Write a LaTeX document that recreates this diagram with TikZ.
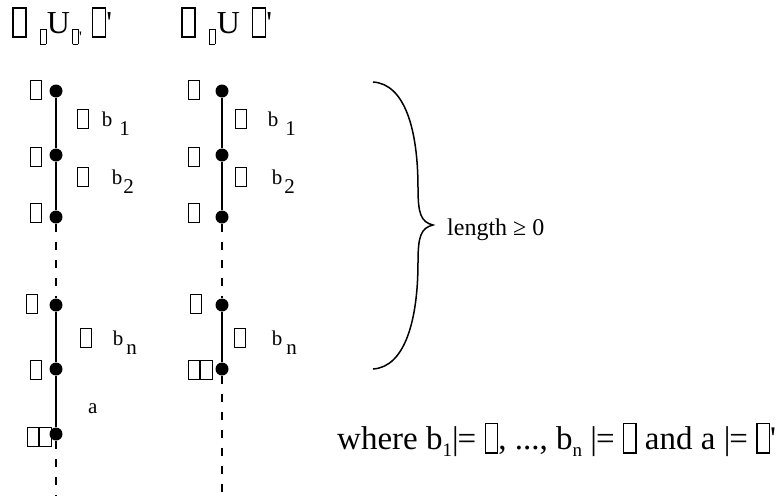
\documentclass[tikz,border=0pt]{standalone}
\usepackage{fontspec}
\setmainfont{Liberation Serif}[Ligatures=TeXOff]
% empty glyph frame: width (optional), height .8em, depth .15em
\newcommand\nog[1][.45em]{\lower.15em\hbox{\vrule width .045em\vbox to .95em{\hrule height .045em width \dimexpr#1-.09em\relax\vfil\hrule height .045em}\vrule width .045em}}
\newcommand\smallsz{\fontsize{16}{16}\selectfont}
\newcommand\lowbox[1]{{\smallsz\raisebox{-9pt}{\nog#1}}}
% edge label: frame, gap, b, gap, lowered index
\newcommand\elab[3]{\nog[.55em]\hspace{#1}b\hspace{#2}\raisebox{-9pt}{#3}}
\begin{document}
\begin{tikzpicture}[x=1pt,y=-1pt,
  dot/.style={circle,fill=black,inner sep=0pt,minimum width=12.5pt,minimum height=13pt},
  chain/.style={line width=1.6pt},
  gapline/.style={line width=1.2pt,dash pattern=on 8pt off 10pt},
  lbl/.style={inner sep=0pt,font=\fontsize{21}{21}\selectfont},
  ttl/.style={inner sep=0pt,font=\fontsize{32}{32}\selectfont,anchor=base west},
  txt/.style={inner sep=0pt,anchor=base west},
  brace/.style={line width=1.5pt}
]
\useasboundingbox (0,0) rectangle (776,496);

% headings
\node[ttl] (h1) at (12,33) {\nog\hspace{13pt}\lowbox{}U\hspace{2pt}\lowbox{'}\hspace{10pt}\nog'};
\node[ttl] (h2) at (181,33) {\nog\hspace{13pt}\lowbox{}\hspace{1pt}U\hspace{12pt}\nog'};

% left chain
\node[dot] (l1) at (56,91) {};
\node[dot] (l2) at (56,155) {};
\node[dot] (l3) at (56,217) {};
\node[dot] (l4) at (56,305) {};
\node[dot] (l5) at (56,369) {};
\node[dot] (l6) at (56,434) {};
\coordinate (lend) at (56,496);
\draw[chain] (l1) -- (l2) -- (l3);
\draw[gapline] (l3) -- (l4);
\draw[chain] (l4) -- (l5) -- (l6);
\draw[gapline] (l6) -- (lend);

% right chain
\node[dot] (r1) at (222,91) {};
\node[dot] (r2) at (222,155) {};
\node[dot] (r3) at (222,217) {};
\node[dot] (r4) at (222,305) {};
\node[dot] (r5) at (222,369) {};
\coordinate (rend) at (222,496);
\draw[chain] (r1) -- (r2) -- (r3);
\draw[gapline] (r3) -- (r4);
\draw[chain] (r4) -- (r5);
\draw[gapline] (r5) -- (rend);

% state labels
\node[lbl,anchor=east] (sl1) at (42,90) {\nog[.55em]};
\node[lbl,anchor=east] (sl2) at (42,157) {\nog[.55em]};
\node[lbl,anchor=east] (sl3) at (42,213) {\nog[.55em]};
\node[lbl,anchor=east] (sl4) at (38,304) {\nog[.55em]};
\node[lbl,anchor=east] (sl5) at (42,370) {\nog[.55em]};
\node[lbl,anchor=east] (sl6) at (52,437) {\nog[.6em]\nog[.6em]};
\node[lbl,anchor=east] (sr1) at (200,90) {\nog[.55em]};
\node[lbl,anchor=east] (sr2) at (200,157) {\nog[.55em]};
\node[lbl,anchor=east] (sr3) at (200,213) {\nog[.55em]};
\node[lbl,anchor=east] (sr4) at (202,304) {\nog[.55em]};
\node[lbl,anchor=east] (sr5) at (213,370) {\nog[.6em]\nog[.6em]};

% step labels
\node[lbl,anchor=base west] (el1) at (77,126) {\elab{13pt}{7pt}{1}};
\node[lbl,anchor=base west] (el2) at (77,184) {\elab{23pt}{1pt}{2}};
\node[lbl,anchor=base west] (eln) at (80,345) {\elab{21pt}{3pt}{n}};
\node[lbl,anchor=base west] (ela) at (88,413) {a};
\node[lbl,anchor=base west] (er1) at (235,126) {\elab{21pt}{7pt}{1}};
\node[lbl,anchor=base west] (er2) at (235,184) {\elab{25pt}{2pt}{2}};
\node[lbl,anchor=base west] (ern) at (234,345) {\elab{26pt}{4pt}{n}};

% brace over the repeated part
\draw[brace] (373,82) .. controls (405,84) and (418,130) .. (418,188)
  .. controls (418,214) and (421,222) .. (433,225)
  .. controls (421,228) and (418,236) .. (418,262)
  .. controls (418,320) and (405,367) .. (373,369);
\node[txt,font=\fontsize{24}{24}\selectfont] (len) at (447,235) {length ≥ 0};

% side condition
\node[txt,font=\fontsize{33}{33}\selectfont] (cond) at (337,449)
  {where b{\fontsize{19}{19}\selectfont\raisebox{-7pt}{1}}|\kern-1pt= \nog[.42em], ..., b{\fontsize{19}{19}\selectfont\raisebox{-7pt}{n}} |\kern-1pt= \nog[.42em] and a |\kern-1pt= \nog[.42em]'};
\end{tikzpicture}
\end{document}
